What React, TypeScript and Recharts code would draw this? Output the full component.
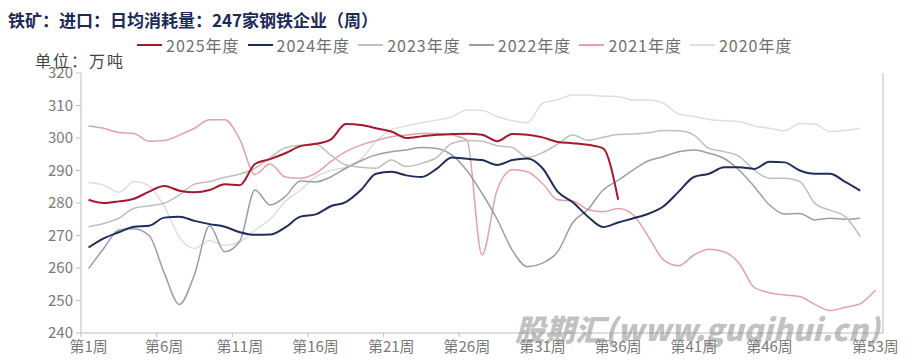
import { LineChart, Line, XAxis, YAxis } from 'recharts'

const FONT = '"Noto Sans CJK SC", "Noto Sans", sans-serif'
const AXIS = '#bdbdbd'
const LABEL = '#7a7a7a'

const PLOT_LEFT = 81
const PLOT_RIGHT = 883
const PLOT_BOTTOM = 333
const HALF_WEEK = (PLOT_RIGHT - PLOT_LEFT) / 53 / 2

const weeks = [
  1, 2, 3, 4, 5, 6, 7, 8, 9, 10, 11, 12, 13, 14, 15, 16, 17, 18, 19, 20,
  21, 22, 23, 24, 25, 26, 27, 28, 29, 30, 31, 32, 33, 34, 35, 36, 37, 38, 39, 40,
  41, 42, 43, 44, 45, 46, 47, 48, 49, 50, 51, 52, 53,
]
const xTicks = [1, 6, 11, 16, 21, 26, 31, 36, 41, 46, 53]
const yTicks = [240, 250, 260, 270, 280, 290, 300, 310, 320]

const y2025 = [
  281, 280, 280.5, 281.3, 283.5, 285.2, 283.8, 283.3, 284, 285.8,
  285.5, 292, 293.5, 295.3, 297.5, 298.2, 299.5, 304.3, 304, 303,
  302, 300, 300.5, 301, 301.2, 301.3, 301, 299, 301.2, 301,
  300.2, 298.8, 298.4, 297.9, 296.8, 281,
]
const y2024 = [
  266.3, 269.1, 271, 272.7, 273, 275.5, 275.8, 274.5, 273.5, 272.7,
  271, 270.2, 270.3, 272.5, 275.8, 276.5, 279, 280.3, 284, 289,
  289.6, 288.5, 288, 290.5, 294, 293.6, 293.2, 291.7, 293.2, 293.7,
  290.7, 283.5, 280.2, 275.8, 272.6, 274, 275.3, 276.7, 279, 283.5,
  288, 289, 291, 291, 290.5, 292.7, 292.5, 290, 289, 289,
  286.5, 283.8,
]
const y2023 = [
  272.7, 273.7, 275.3, 278.4, 279.1, 279.9, 282.5, 285.8, 286.6, 287.9,
  288.9, 290.7, 294, 297, 297.8, 298.1, 294.8, 291.7, 291, 290.7,
  293.2, 291.2, 292.2, 294, 298.3, 299.2, 299, 297.6, 297.1, 294,
  295.5, 298.1, 300.9, 299.3, 300.2, 301.1, 301.2, 301.6, 302.3, 302.2,
  300.9, 296.8, 295.8, 294.3, 290.1, 287.6, 287.6, 286.6, 279.9, 277.8,
  275.8, 269.6,
]
const y2022 = [
  259.8, 266, 271.7, 272.1, 270, 258.5, 248.8, 258, 273, 265,
  268.3, 284, 279.4, 282, 286.8, 286.5, 288, 290.7, 293, 294.8,
  295.8, 296.3, 297.1, 296.8, 294.8, 290, 283, 275, 265.5, 260.4,
  261.5, 265, 274, 278, 284, 287, 290.2, 293, 294.3, 295.8,
  296.3, 295.3, 293.7, 290.1, 285, 279.4, 276.6, 276.8, 274.8, 275.3,
  275, 275.3,
]
const y2021 = [
  303.7, 303, 301.7, 301.4, 299, 299.2, 300.9, 303, 305.6, 305.6,
  299.5, 288.8, 292, 288, 287.6, 289.1, 292.7, 295.8, 297.8, 299.2,
  300.4, 300.9, 301.4, 301.4, 300.9, 299.4, 264, 284, 290.2, 289.6,
  286, 281, 280.6, 278, 277.3, 278.3, 276.3, 269.6, 262.5, 260.7,
  264, 265.8, 265, 261.4, 254, 252.4, 251.7, 251.2, 248.8, 246.9,
  247.9, 249, 253.2,
]
const y2020 = [
  286.3, 285.5, 283.3, 286.6, 285.2, 279, 269.5, 266, 268.5, 267,
  268, 271.7, 275, 280.5, 284, 288, 290, 291, 293.5, 299,
  302.5, 303.7, 304.7, 305.5, 306.5, 308.6, 308.5, 306.6, 305.3, 304.7,
  310.7, 311.8, 313.2, 313.2, 312.9, 312.7, 311.7, 311.7, 310.7, 307.4,
  306.6, 305.7, 305.3, 305, 303.7, 303, 302.2, 304.5, 304.3, 302,
  302.3, 303,
]

// legend order; drawn in reverse so 2025 sits on top
const series = [
  { key: 'y2025', name: '2025年度', color: '#a3192d', width: 2, values: y2025 },
  { key: 'y2024', name: '2024年度', color: '#1f2d5c', width: 2, values: y2024 },
  { key: 'y2023', name: '2023年度', color: '#bfbfbf', width: 1.5, values: y2023 },
  { key: 'y2022', name: '2022年度', color: '#9a9dab', width: 1.5, values: y2022 },
  { key: 'y2021', name: '2021年度', color: '#e3a0ab', width: 1.5, values: y2021 },
  { key: 'y2020', name: '2020年度', color: '#dedede', width: 1.5, values: y2020 },
]

function WeekTick(props: any) {
  const { x, y, payload } = props
  return (
    <g>
      <line x1={x - HALF_WEEK} x2={x - HALF_WEEK} y1={PLOT_BOTTOM} y2={PLOT_BOTTOM + 4} stroke={AXIS} />
      <text x={x} y={y} dy="0.71em" textAnchor="middle" fill={LABEL} fontSize={15} fontFamily={FONT}>
        {`第${payload.value}周`}
      </text>
    </g>
  )
}

export default function App() {
  const data = weeks.map((week, i) => {
    const row: Record<string, number | undefined> = { week }
    series.forEach((s) => {
      row[s.key] = s.values[i]
    })
    return row
  })

  return (
    <div style={{ position: 'absolute', left: 0, top: 0, width: 914, height: 362, background: '#fff', fontFamily: FONT }}>
      <div style={{ position: 'absolute', left: 0, top: 0 }}>
        <LineChart width={914} height={362} data={data} margin={{ top: 73, right: 0, bottom: 0, left: 0 }}>
          <XAxis
            dataKey="week"
            type="number"
            domain={[0.5, 53.5]}
            ticks={xTicks}
            interval={0}
            height={29}
            stroke={AXIS}
            tickLine={false}
            tickSize={6}
            tickMargin={2}
            tick={<WeekTick />}
          />
          <YAxis
            yAxisId="left"
            domain={[240, 320]}
            ticks={yTicks}
            interval={0}
            width={81}
            stroke={AXIS}
            tickSize={5}
            tickMargin={3}
            tick={{ fill: LABEL, fontSize: 15, fontFamily: FONT }}
          />
          <YAxis yAxisId="right" orientation="right" width={31} stroke={AXIS} tick={false} tickLine={false} />
          {[...series].reverse().map((s) => (
            <Line
              key={s.key}
              yAxisId="left"
              type="monotone"
              dataKey={s.key}
              stroke={s.color}
              strokeWidth={s.width}
              dot={false}
              activeDot={false}
              connectNulls={false}
              isAnimationActive={false}
            />
          ))}
        </LineChart>
      </div>

      <div style={{ position: 'absolute', left: 8, top: 11, fontSize: 17, lineHeight: 1, fontWeight: 700, color: '#1c2b59', whiteSpace: 'nowrap' }}>
        铁矿：进口：日均消耗量：247家钢铁企业（周）
      </div>

      <div style={{ position: 'absolute', left: 137, top: 37, display: 'flex', lineHeight: 1 }}>
        {series.map((s) => (
          <div key={s.key} style={{ display: 'flex', alignItems: 'center', width: 110.6 }}>
            <div style={{ width: 25, height: 2, background: s.color, marginRight: 4 }} />
            <span style={{ fontSize: 16, color: '#707070', letterSpacing: 1, whiteSpace: 'nowrap' }}>{s.name}</span>
          </div>
        ))}
      </div>

      <div style={{ position: 'absolute', left: 35, top: 52, fontSize: 16, lineHeight: 1, color: '#444', letterSpacing: 2 }}>
        单位：万吨
      </div>

      <div
        style={{
          position: 'absolute',
          left: 515,
          top: 313,
          fontSize: 30,
          lineHeight: 1,
          fontWeight: 900,
          fontStyle: 'italic',
          color: 'rgba(140,140,140,0.55)',
          whiteSpace: 'nowrap',
          pointerEvents: 'none',
        }}
      >
        股期汇(www.guqihui.cn)
      </div>
    </div>
  )
}
